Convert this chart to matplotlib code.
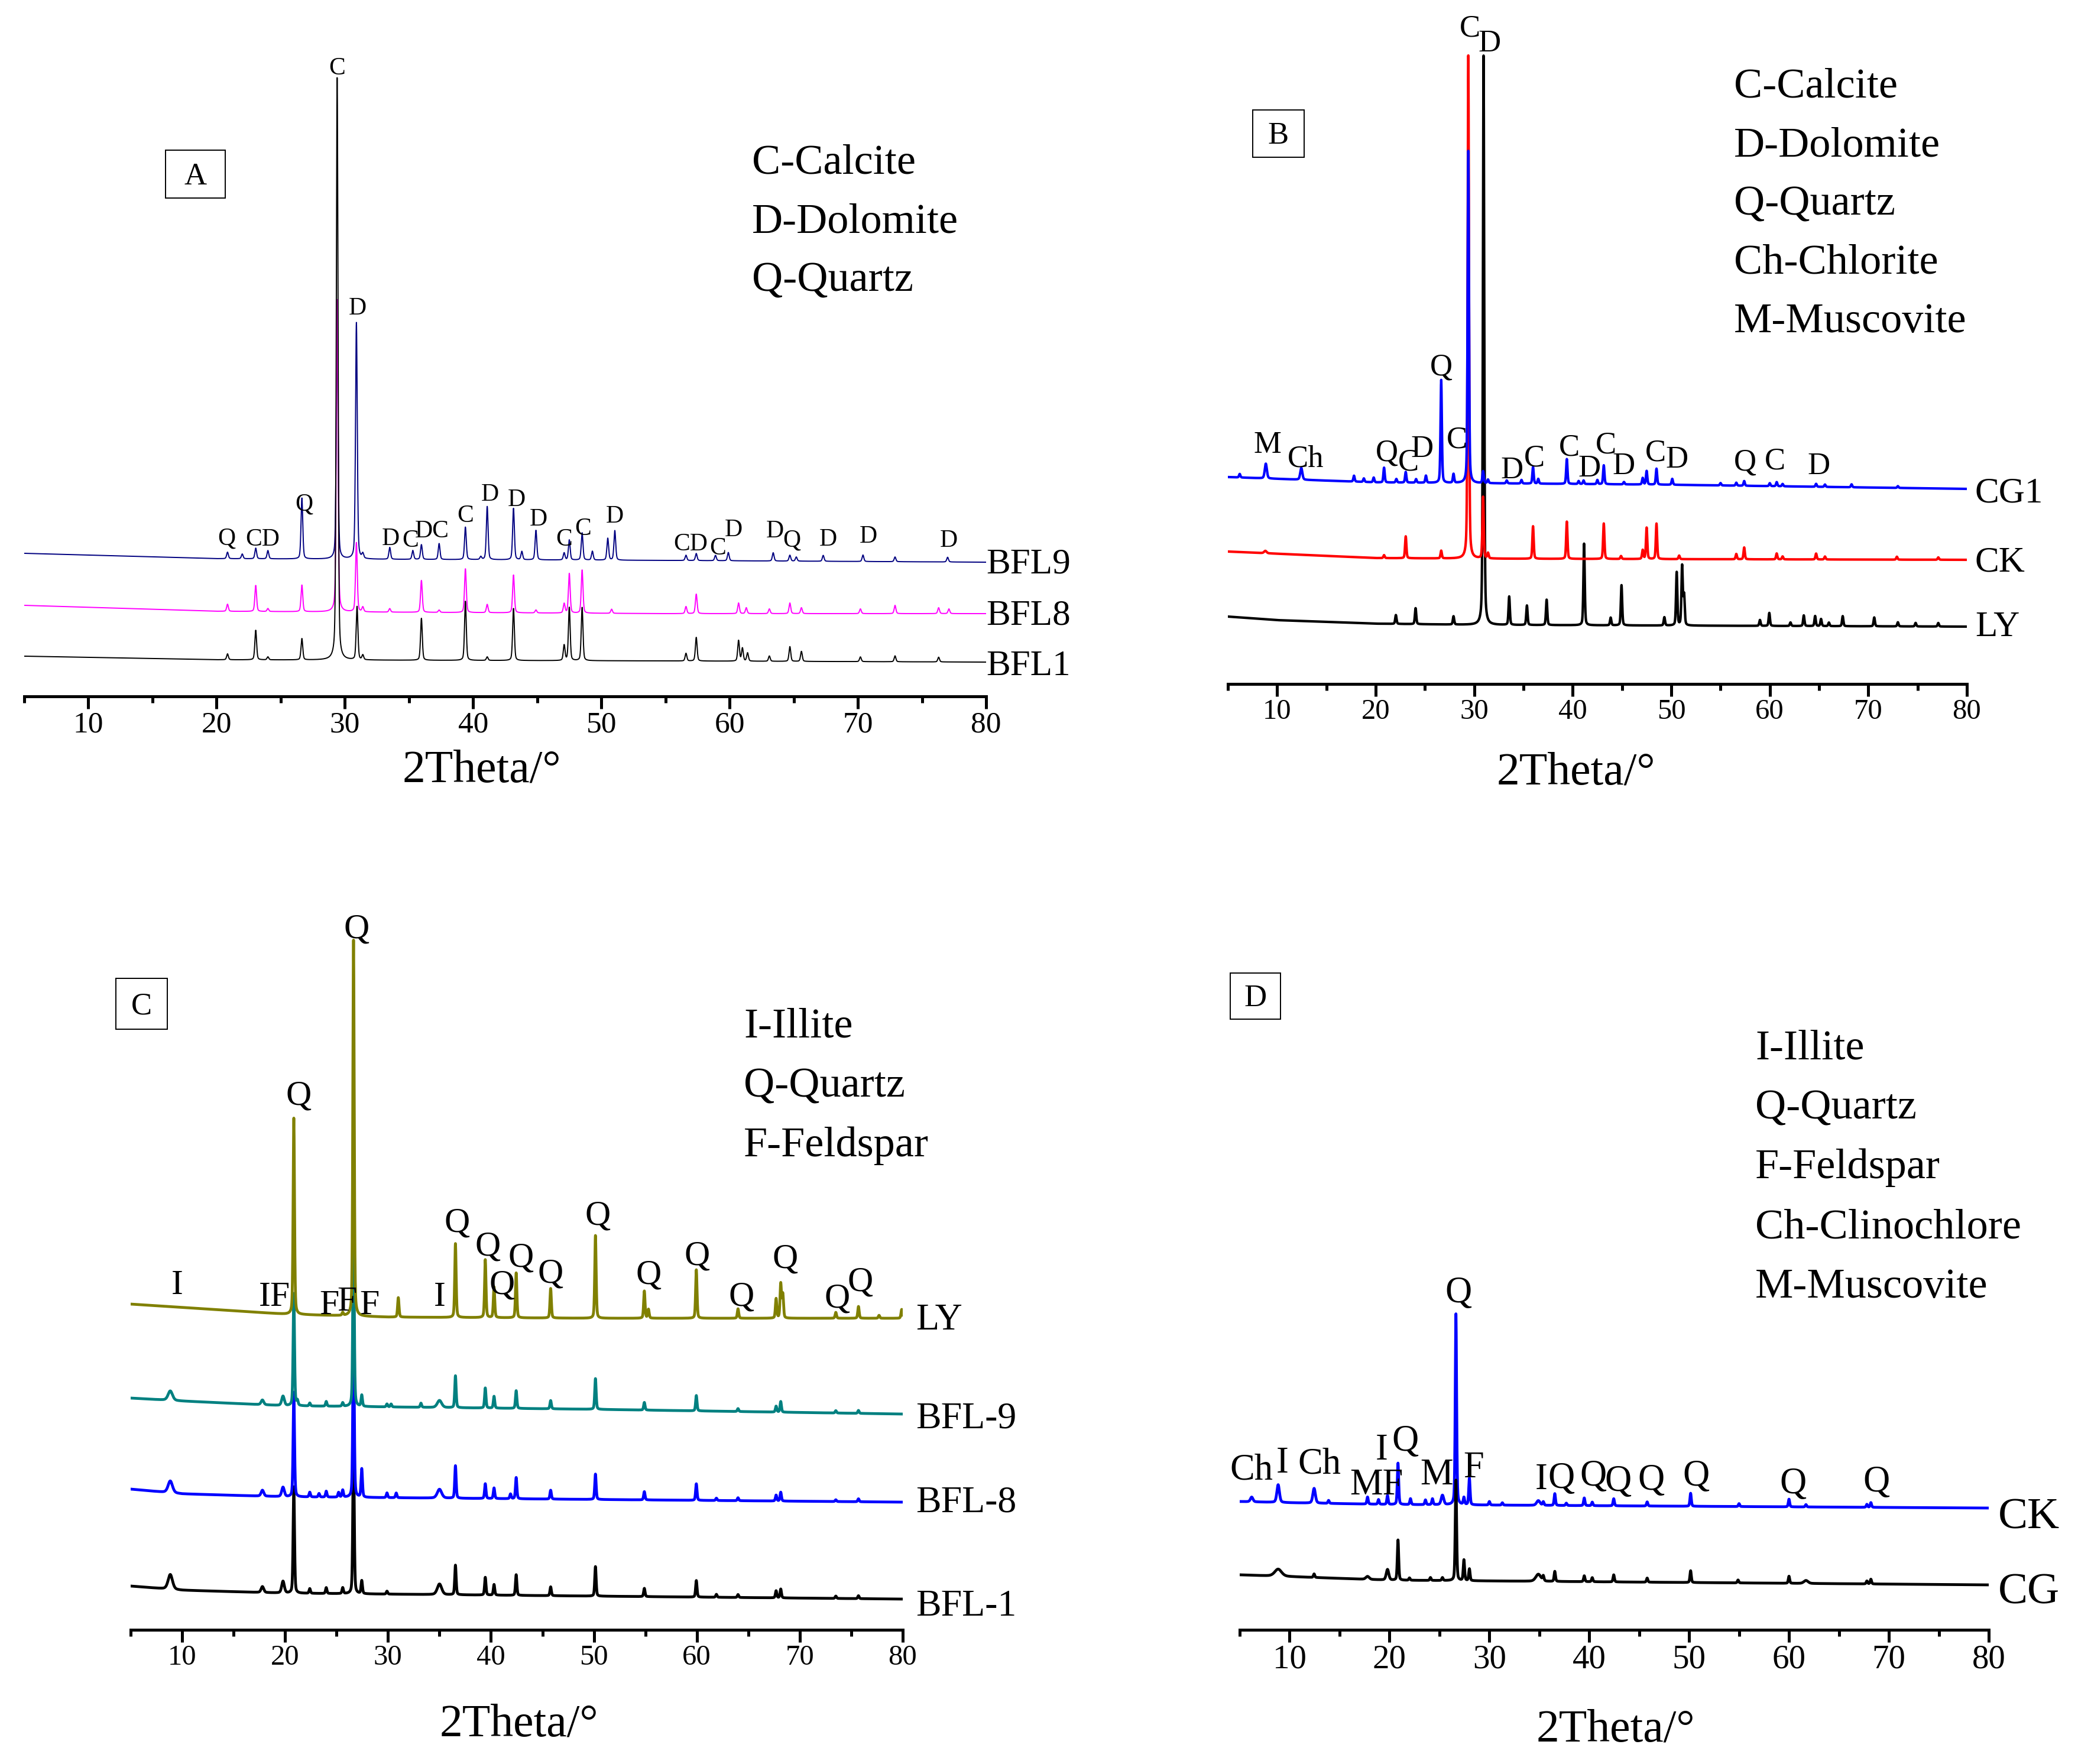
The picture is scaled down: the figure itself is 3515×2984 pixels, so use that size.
import numpy as np
import matplotlib.pyplot as plt
from matplotlib.patches import Rectangle

plt.rcParams['font.family'] = ['Liberation Serif', 'DejaVu Serif']

W, H = 3516, 2984
two_theta = np.linspace(5, 80, 7501)

# ---- panel A: (2theta, intensity) peaks, intensity in a.u. ----
a_bfl9_base = ([5, 20, 55, 80], [242, 233, 230, 227])
a_bfl9 = [(20.85, 11), (22.0, 8), (23.05, 18), (24.0, 14), (26.65, 103), (29.4, 425),
          (30.9, 400), (31.4, 8), (33.5, 20), (35.3, 15), (35.97, 25), (37.35, 27),
          (39.4, 55), (40.6, 5), (41.1, 90), (43.15, 87), (43.8, 14), (44.9, 50),
          (47.1, 12), (47.5, 34), (48.5, 46), (49.3, 15), (50.5, 37), (51.05, 50),
          (56.6, 9), (57.4, 12), (58.9, 9), (59.9, 14), (63.4, 14), (64.7, 10),
          (65.2, 7), (67.3, 10), (70.4, 11), (72.9, 8), (77.0, 8)]
a_bfl8_base = ([5, 20, 55, 80], [154, 144, 140, 140])
a_bfl8 = [(20.85, 12), (23.05, 44), (24.0, 5), (26.65, 45), (29.4, 528), (30.9, 117),
          (31.4, 8), (33.5, 6), (35.97, 54), (37.35, 4), (39.4, 74), (41.1, 14),
          (43.15, 64), (44.9, 5), (47.1, 16), (47.5, 67), (48.5, 73), (50.8, 7),
          (56.6, 12), (57.4, 33), (60.7, 18), (61.3, 10), (63.1, 8), (64.7, 18),
          (65.6, 10), (70.2, 8), (72.9, 14), (76.3, 10), (77.1, 8)]
a_bfl1_base = ([5, 20, 55, 80], [68, 62, 60, 58])
a_bfl1 = [(20.85, 10), (23.05, 50), (24.0, 5), (26.65, 36), (29.4, 985), (30.95, 90),
          (31.4, 8), (35.97, 71), (39.4, 100), (41.1, 6), (43.15, 88), (47.1, 26),
          (47.5, 90), (48.5, 90), (56.6, 13), (57.4, 40), (60.7, 35), (61.0, 22),
          (61.4, 14), (63.1, 9), (64.7, 25), (65.6, 17), (70.2, 8), (72.9, 10), (76.3, 8)]
a_labels = [("C", 29.4, 1066), ("D", 31.0, 660), ("Q", 26.8, 328), ("Q", 20.8, 270),
            ("CD", 23.6, 269), ("D", 33.55, 270), ("C", 35.1, 267), ("DC", 36.8, 283),
            ("C", 39.4, 309), ("D", 41.3, 345), ("D", 43.4, 336), ("D", 45.1, 303),
            ("C", 47.1, 269), ("C", 48.55, 287), ("D", 51.05, 308), ("CD", 56.95, 261),
            ("C", 59.1, 254), ("D", 60.3, 285), ("D", 63.55, 283), ("Q", 64.85, 267),
            ("D", 67.7, 269), ("D", 70.8, 274), ("D", 77.1, 267)]

# ---- panel B ----
b_cg1_base = ([5, 20, 50, 80], [350, 341, 337, 330])
b_cg1 = [(6.2, 6), (8.85, 25, 0.25), (12.45, 20, 0.25), (17.8, 10), (18.8, 6), (19.8, 8),
         (20.85, 25), (22.1, 6), (23.05, 18), (24.1, 6), (25.1, 12), (26.65, 174),
         (27.9, 15), (29.4, 562), (30.9, 20), (31.4, 6), (33.3, 5), (34.8, 6),
         (35.97, 28), (36.5, 8), (39.4, 42), (40.6, 5), (41.1, 6), (42.5, 7),
         (43.15, 32), (45.2, 4), (47.1, 11), (47.5, 23), (48.5, 27), (50.1, 10),
         (55.0, 4), (56.6, 5), (57.4, 8), (60.0, 5), (60.7, 7), (61.3, 4), (64.7, 5),
         (65.6, 4), (68.3, 5), (73.0, 3)]
b_ck_base = ([5, 20, 30, 80], [224, 213, 212, 210])
b_ck = [(8.8, 4, 0.3), (20.85, 5), (23.05, 37), (26.65, 13), (29.4, 851), (30.9, 104),
        (31.4, 9), (35.97, 55), (39.4, 63), (43.15, 60), (44.9, 5), (47.1, 15),
        (47.5, 53), (48.5, 60), (50.8, 6), (56.6, 9), (57.4, 20), (60.7, 10),
        (61.3, 5), (64.7, 10), (65.6, 5), (72.9, 5), (77.1, 4)]
b_ly_base = ([5, 10, 20, 30, 80], [114, 108, 102, 100, 97])
b_ly = [(22.05, 15), (24.05, 27), (27.9, 14), (30.95, 963), (33.55, 48), (35.35, 33),
        (37.35, 43), (41.15, 138), (43.85, 13), (44.95, 68), (49.3, 14), (50.55, 90),
        (51.1, 100), (51.3, 50), (59.0, 10), (59.95, 22), (62.1, 6), (63.45, 18),
        (64.6, 17), (65.2, 12), (66.0, 6), (67.4, 17), (70.6, 15), (73.0, 7),
        (74.8, 6), (77.1, 6)]
b_labels = [("M", 9.0, 408), ("Ch", 12.9, 385), ("Q", 21.15, 395), ("C", 23.35, 379),
            ("D", 24.7, 401), ("Q", 26.65, 540), ("C", 28.25, 417), ("C", 29.55, 1113),
            ("D", 31.55, 1087), ("D", 33.85, 365), ("C", 36.1, 386), ("C", 39.65, 404),
            ("D", 41.7, 368), ("C", 43.35, 408), ("D", 45.2, 372), ("C", 48.4, 395),
            ("D", 50.6, 383), ("Q", 57.5, 379), ("C", 60.5, 381), ("D", 65.0, 372)]

# ---- panel C ----
c_ly_base = ([5, 20, 30, 50, 80], [551, 534, 529, 527, 527])
c_ly = [(20.85, 332), (25.6, 5), (26.65, 636), (31.0, 33), (36.55, 125), (39.45, 98),
        (40.3, 52), (42.45, 76), (45.8, 50), (50.15, 140), (54.9, 46), (55.3, 15),
        (59.95, 82), (64.0, 16), (67.7, 33), (68.15, 58), (68.35, 40), (73.5, 10),
        (75.7, 20), (77.7, 5), (79.9, 15)]
c_bfl9_base = ([5, 10, 20, 50, 80], [392, 387, 379, 373, 365])
c_bfl9 = [(8.85, 16, 0.5), (17.8, 8, 0.3), (19.8, 16, 0.3), (20.85, 190), (21.2, 8),
          (22.4, 5), (24.0, 8), (25.6, 6), (26.65, 326), (27.45, 19), (29.9, 5),
          (30.3, 5), (33.2, 7), (35.0, 12, 0.5), (36.55, 54), (39.45, 34), (40.3, 20),
          (42.45, 30), (45.8, 14), (50.15, 52), (54.9, 13), (59.95, 26), (64.0, 5),
          (67.7, 10), (68.15, 18), (73.5, 4), (75.7, 5)]
c_bfl8_base = ([5, 10, 20, 80], [238, 230, 225, 216])
c_bfl8 = [(8.85, 20, 0.5), (17.8, 10, 0.3), (19.8, 16, 0.3), (20.85, 177), (22.4, 8),
          (23.3, 6), (24.0, 10), (25.2, 8), (25.6, 12), (26.65, 300), (27.45, 48),
          (29.9, 8), (30.8, 8), (35.0, 15, 0.5), (36.55, 55), (39.45, 25), (40.3, 18),
          (41.9, 8), (42.45, 36), (45.8, 15), (50.15, 43), (54.9, 14), (59.95, 28),
          (61.9, 4), (64.0, 5), (67.7, 10), (68.15, 15), (73.5, 3), (75.7, 5)]
c_bfl1_base = ([5, 10, 20, 80], [74, 67, 62, 52])
c_bfl1 = [(8.85, 25, 0.5), (17.8, 10, 0.3), (19.8, 20, 0.3), (20.85, 180), (22.4, 8),
          (24.0, 10), (25.6, 10), (26.65, 260), (27.45, 22), (29.9, 5), (35.0, 18, 0.5),
          (36.55, 50), (39.45, 30), (40.3, 18), (42.45, 35), (45.8, 15), (50.15, 50),
          (54.9, 14), (59.95, 28), (61.9, 5), (64.0, 5), (67.7, 12), (68.15, 15),
          (73.5, 4), (75.7, 5)]
c_labels = [("Q", 26.95, 1190), ("Q", 21.3, 908), ("I", 9.5, 588), ("IF", 19.0, 568),
            ("F", 24.3, 554), ("F", 26.0, 560), ("F", 28.2, 554), ("I", 35.0, 568),
            ("Q", 36.7, 693), ("Q", 39.7, 653), ("Q", 41.1, 588), ("Q", 42.9, 634),
            ("Q", 45.8, 607), ("Q", 50.4, 705), ("Q", 55.3, 605), ("Q", 60.0, 637),
            ("Q", 64.35, 568), ("Q", 68.6, 632), ("Q", 73.65, 565), ("Q", 75.9, 593)]

# ---- panel D ----
d_ck_base = ([5, 10, 20, 80], [217, 215, 212, 206])
d_ck = [(6.2, 8, 0.3), (8.85, 30, 0.3), (12.45, 25, 0.3), (13.9, 5), (17.8, 12),
        (18.9, 8), (19.8, 15), (20.85, 70), (22.1, 10), (23.6, 8), (24.3, 10),
        (25.3, 16, 0.3), (26.65, 323), (27.45, 12), (28.0, 45), (30.0, 6), (31.3, 4),
        (34.9, 8, 0.4), (35.4, 6), (36.55, 20), (37.7, 4), (39.5, 13), (40.3, 6),
        (42.45, 12), (45.8, 7), (50.15, 22), (55.0, 5), (60.0, 13), (61.7, 4),
        (67.8, 5), (68.2, 8)]
d_cg_base = ([5, 10, 20, 80], [93, 90, 84, 76])
d_cg = [(8.85, 12, 0.8), (12.45, 6), (17.8, 5, 0.4), (19.8, 18, 0.3), (20.85, 68),
        (22.0, 4), (24.1, 5), (25.3, 5), (26.65, 170), (27.45, 35), (28.0, 20),
        (34.9, 12, 0.6), (35.4, 8), (36.55, 17), (39.5, 10), (40.3, 7), (42.45, 12),
        (45.8, 7), (50.15, 20), (54.9, 5), (60.0, 12), (61.7, 5, 0.5), (67.8, 5), (68.2, 8)]
d_labels = [("Ch", 6.2, 275), ("I", 9.3, 287), ("Ch", 13.0, 285), ("MF", 18.7, 250),
            ("I", 19.2, 309), ("Q", 21.6, 324), ("M", 24.7, 267), ("Q", 26.9, 575),
            ("F", 28.4, 279), ("I", 35.2, 259), ("Q", 37.2, 261), ("Q", 40.4, 265),
            ("Q", 42.9, 256), ("Q", 46.2, 258), ("Q", 50.7, 265), ("Q", 60.4, 252),
            ("Q", 68.75, 255)]

legend_a = ["C-Calcite", "D-Dolomite", "Q-Quartz"]
legend_b = ["C-Calcite", "D-Dolomite", "Q-Quartz", "Ch-Chlorite", "M-Muscovite"]
legend_c = ["I-Illite", "Q-Quartz", "F-Feldspar"]
legend_d = ["I-Illite", "Q-Quartz", "F-Feldspar", "Ch-Clinochlore", "M-Muscovite"]


def pattern(base, peaks, fwhm=0.16, eta=0.35):
    y = np.interp(two_theta, base[0], base[1]).astype(float)
    for pk in peaks:
        p, h = pk[0], pk[1]
        w = pk[2] if len(pk) > 2 else fwhm
        s = w / 2.3548
        g = np.exp(-0.5 * ((two_theta - p) / s) ** 2)
        lor = 1 / (1 + ((two_theta - p) / (w / 2)) ** 2)
        y = y + h * ((1 - eta) * g + eta * lor)
    return y


fig = plt.figure(figsize=(W / 100, H / 100), dpi=100)


def make_axes(left, right, bottom, height, tick_size, tick_pad=3):
    ax = fig.add_axes([left / W, 1 - bottom / H, (right - left) / W, height / H])
    ax.set_xlim(5, 80)
    ax.set_ylim(0, height)
    for s in ['top', 'left', 'right']:
        ax.spines[s].set_visible(False)
    ax.spines['bottom'].set_linewidth(3.6)
    ax.set_yticks([])
    ax.set_xticks(range(10, 81, 10))
    ax.set_xticks(range(5, 80, 10), minor=True)
    ax.tick_params(axis='x', which='major', length=15, width=3.6, labelsize=tick_size,
                   pad=tick_pad, direction='out')
    ax.tick_params(axis='x', which='minor', length=8, width=3.6, direction='out')
    ax.patch.set_alpha(0)
    return ax


def fig_text(x, y, s, size, ha='left', va='baseline'):
    fig.text(x / W, 1 - y / H, s, fontsize=size, ha=ha, va=va)


def cap_text(x, y, s, size, ha='left'):
    # y is the visual centre of capital letters, in pixels from the top
    em = size / 0.72
    fig_text(x, y + 0.33 * em, s, size, ha=ha)


def peak_labels(ax, labels, size):
    em = size / 0.72
    for s, x, y in labels:
        ax.text(x, y - 0.33 * em, s, fontsize=size, ha='center', va='baseline',
                clip_on=False)


def box(x0, y0, x1, y1, letter, size):
    fig.patches.append(Rectangle((x0 / W, 1 - y1 / H), (x1 - x0) / W, (y1 - y0) / H,
                                 transform=fig.transFigure, fill=False, lw=1.4,
                                 ec='black'))
    cap_text((x0 + x1) / 2, (y0 + y1) / 2, letter, size, ha='center')


# Panel A
ax = make_axes(41, 1668, 1178, 1118, 37)
ax.plot(two_theta, pattern(a_bfl9_base, a_bfl9, fwhm=0.16), color='#000080', lw=1.4)
ax.plot(two_theta, pattern(a_bfl8_base, a_bfl8, fwhm=0.16), color='#FF00FF', lw=1.4)
ax.plot(two_theta, pattern(a_bfl1_base, a_bfl1, fwhm=0.16), color='black', lw=1.4)
peak_labels(ax, a_labels, 30)
for name, yc in zip(["BFL9", "BFL8", "BFL1"], [949, 1036, 1122]):
    cap_text(1668, yc, name, 44)
for i, s in enumerate(legend_a):
    cap_text(1272, 270 + 99.5 * i, s, 52)
box(280, 254, 381, 335, "A", 38)
fig_text(815, 1304, "2Theta/°", 56, ha='center', va='center')

# Panel B
ax = make_axes(2077, 3327, 1157, 1117, 35)
ax.plot(two_theta, pattern(b_ly_base, b_ly), color='black', lw=3.0)
ax.plot(two_theta, pattern(b_ck_base, b_ck), color='#FF0000', lw=3.0)
ax.plot(two_theta, pattern(b_cg1_base, b_cg1), color='#0000FF', lw=3.0)
peak_labels(ax, b_labels, 38)
for name, yc in zip(["CG1", "CK", "LY"], [829, 946, 1056]):
    cap_text(3341, yc, name, 44)
for i, s in enumerate(legend_b):
    cap_text(2933, 141 + 99.3 * i, s, 52)
box(2119, 186, 2206, 266, "B", 38)
fig_text(2666, 1308, "2Theta/°", 56, ha='center', va='center')

# Panel C
ax = make_axes(221, 1527, 2757, 1257, 35)
ax.plot(two_theta, pattern(c_bfl1_base, c_bfl1), color='black', lw=3.4)
ax.plot(two_theta, pattern(c_bfl8_base, c_bfl8), color='#0000FF', lw=3.4)
ax.plot(two_theta, pattern(c_bfl9_base, c_bfl9), color='#008080', lw=3.4)
ax.plot(two_theta, pattern(c_ly_base, c_ly), color='#808000', lw=3.4)
peak_labels(ax, c_labels, 43)
for name, yc in zip(["LY", "BFL-9", "BFL-8", "BFL-1"], [2228, 2394, 2536, 2712]):
    cap_text(1549, yc, name, 46)
for i, s in enumerate(legend_c):
    cap_text(1258, 1731 + 100.5 * i, s, 52)
box(196, 1655, 283, 1741, "C", 38)
fig_text(878, 2918, "2Theta/°", 56, ha='center', va='center')

# Panel D
ax = make_axes(2097, 3364, 2757, 1257, 41)
ax.plot(two_theta, pattern(d_ck_base, d_ck), color='#0000FF', lw=3.4)
ax.plot(two_theta, pattern(d_cg_base, d_cg), color='black', lw=3.4)
peak_labels(ax, d_labels, 45)
for name, yc in zip(["CK", "CG"], [2561, 2688]):
    cap_text(3380, yc, name, 54)
for i, s in enumerate(legend_d):
    cap_text(2969, 1768 + 100.8 * i, s, 52)
box(2081, 1646, 2166, 1724, "D", 38)
fig_text(2733, 2927, "2Theta/°", 56, ha='center', va='center')

fig.savefig('out.png', dpi=100, facecolor='white')
